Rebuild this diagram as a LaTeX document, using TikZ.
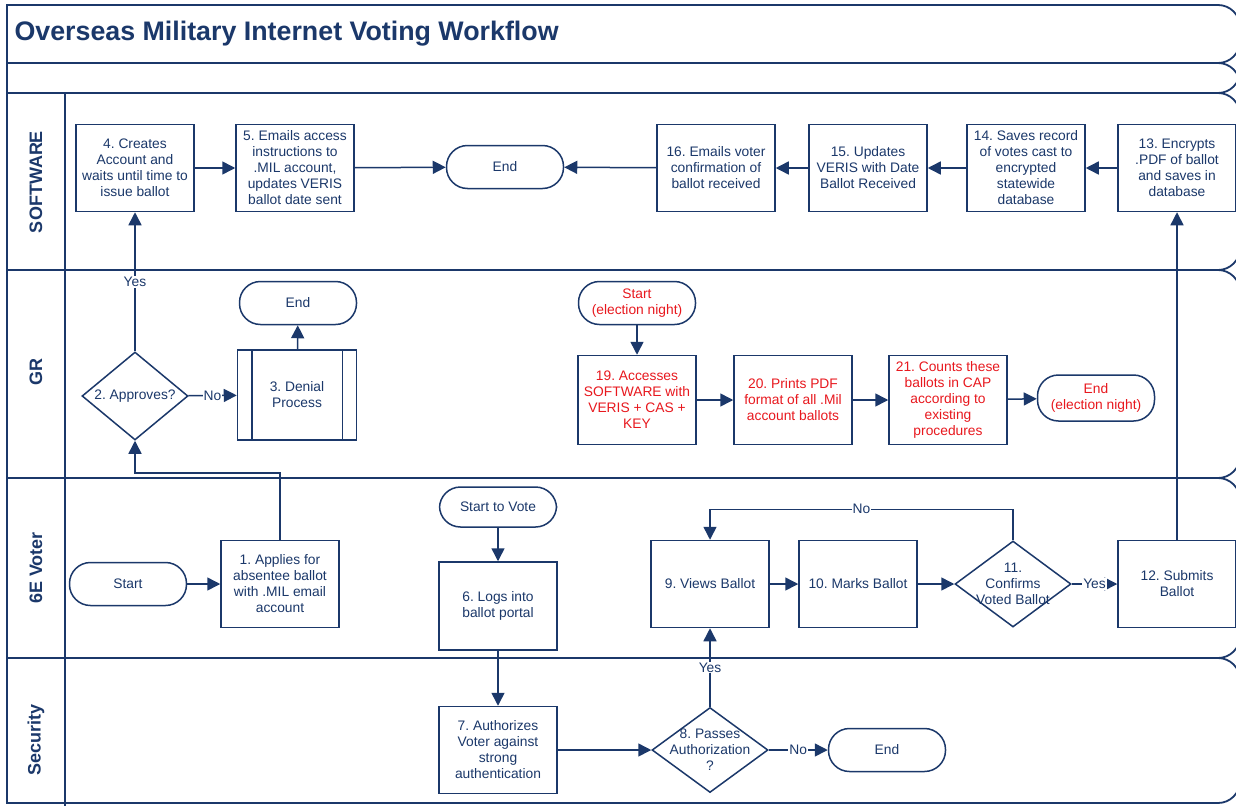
\documentclass[tikz,border=0pt]{standalone}
\usepackage{fontspec}
\setmainfont{Liberation Sans}
\usetikzlibrary{shapes.geometric,arrows.meta}
\definecolor{navy}{RGB}{27,56,106}
\definecolor{nightred}{RGB}{232,24,30}
\tikzset{
  txt/.style={align=center, text=navy, font=\fontsize{13.8}{16}\selectfont\frenchspacing},
  proc/.style={txt, draw=navy, line width=1.5pt, minimum width=118pt, minimum height=87pt, inner sep=2pt},
  term/.style={proc, rounded corners=21pt, minimum width=117pt, minimum height=43pt},
  decide/.style={draw=navy, line width=1.5pt, diamond, inner sep=0pt, minimum width=106pt, minimum height=88pt},
  night/.style={text=nightred},
  flow/.style={draw=navy, line width=1.5pt, -{Triangle[length=13pt,width=13pt]}},
  lbl/.style={txt, fill=white, inner sep=1pt},
  lane/.style={draw=navy, line width=1.8pt},
  lanename/.style={rotate=90, text=navy, font=\fontsize{18}{20}\selectfont\bfseries}
}
\newcommand\swimlane[2]{%
  \draw[lane] (620,#1) -- (7,#1) -- (7,#2) -- (620,#2);
  \draw[lane, rounded corners=22pt] (620,#1) -- (1240,#1) -- (1240,#2) -- (620,#2);}

\begin{document}
\begin{tikzpicture}[x=1pt, y=-1pt]
  \useasboundingbox (0,0) rectangle (1236,806);
  \clip (0,0) rectangle (1236,806);
  \fill[white] (0,0) rectangle (1236,806);

  % lanes
  \swimlane{5}{63}
  \swimlane{63}{93}
  \swimlane{93}{270}
  \swimlane{270}{478}
  \swimlane{478}{658}
  \swimlane{658}{803}
  \draw[lane] (65,93) -- (65,806);

  \node[anchor=west, text=navy, font=\fontsize{26.8}{30}\selectfont\bfseries] (T) at (11,34) {Overseas Military Internet Voting Workflow};
  \node[lanename] (L1) at (36,182) {SOFTWARE};
  \node[lanename] (L2) at (36,372) {GR};
  \node[lanename] (L3) at (36,568) {6E Voter};
  \node[lanename] (L4) at (36,740) {Security};

  % SOFTWARE
  \node[proc] (P4) at (135,168) {4. Creates\\Account and\\waits until time to\\issue ballot};
  \node[proc] (P5) at (295,168) {5. Emails access\\instructions to\\.MIL account,\\updates VERIS\\ballot date sent};
  \node[term] (E1) at (505,167) {End};
  \node[proc] (P16) at (716,168) {16. Emails voter\\confirmation of\\ballot received};
  \node[proc] (P15) at (868,168) {15. Updates\\VERIS with Date\\Ballot Received};
  \node[proc] (P14) at (1026,168) {14. Saves record\\of votes cast to\\encrypted\\statewide\\database};
  \node[proc] (P13) at (1177,168) {13. Encrypts\\.PDF of ballot\\and saves in\\database};

  % GR
  \node[decide, label={[txt]center:2. Approves?}] (D2) at (135,396) {};
  \node[proc, minimum width=119pt, minimum height=90pt] (P3) at (297,395) {3. Denial\\Process};
  \draw[navy, line width=1.5pt] ([xshift=15pt]P3.north west) -- ([xshift=15pt]P3.south west);
  \draw[navy, line width=1.5pt] ([xshift=-15pt]P3.north east) -- ([xshift=-15pt]P3.south east);
  \node[term] (E2) at (298,303) {End};
  \node[term, night] (S2) at (637,303) {Start\\(election night)};
  \node[proc, night, minimum height=89pt] (P19) at (637,400) {19. Accesses\\SOFTWARE with\\VERIS + CAS +\\KEY};
  \node[proc, night, minimum height=89pt] (P20) at (793,400) {20. Prints PDF\\format of all .Mil\\account ballots};
  \node[proc, night, minimum height=89pt] (P21) at (948,400) {21. Counts these\\ballots in CAP\\according to\\existing\\procedures};
  \node[term, night, minimum height=46pt] (E3) at (1096,398) {End\\(election night)};

  % 6E Voter
  \node[term] (S1) at (128,584) {Start};
  \node[proc] (P1) at (280,584) {1. Applies for\\absentee ballot\\with .MIL email\\account};
  \node[term, minimum height=40pt] (S3) at (498,507) {Start to Vote};
  \node[proc, minimum height=88pt] (P6) at (498,606) {6. Logs into\\ballot portal};
  \node[proc] (P9) at (710,584) {9. Views Ballot};
  \node[proc] (P10) at (858,584) {10. Marks Ballot};
  \node[decide, minimum width=116pt, minimum height=86pt, label={[txt]center:{11.\\Confirms\\Voted Ballot}}] (D11) at (1013,584) {};
  \node[proc] (P12) at (1177,584) {12. Submits\\Ballot};

  % Security
  \node[proc] (P7) at (498,750) {7. Authorizes\\Voter against\\strong\\authentication};
  \node[decide, minimum width=116pt, minimum height=85pt, label={[txt]center:{8. Passes\\Authorization\\?}}] (D8) at (710,750) {};
  \node[term] (E4) at (887,750) {End};

  \draw[flow] (P4) -- (P5);
  \draw[flow] (P5) -- (E1);
  \draw[flow] (P16) -- (E1);
  \draw[flow] (P15) -- (P16);
  \draw[flow] (P14) -- (P15);
  \draw[flow] (P13) -- (P14);
  \draw[flow] (D2) -- node[lbl] {No} (P3);
  \draw[flow] (D2.north) -- node[lbl] {Yes} (P4.south);
  \draw[flow] (P3) -- (E2);
  \draw[flow] (P1.north) -- ++(0,-67) -| (D2.south);
  \draw[flow] (S2) -- (P19);
  \draw[flow] (P19) -- (P20);
  \draw[flow] (P20) -- (P21);
  \draw[flow] (P21) -- (E3);
  \draw[flow] (S1) -- (P1);
  \draw[flow] (S3) -- (P6);
  \draw[flow] (P6) -- (P7);
  \draw[flow] (P7) -- (D8);
  \draw[flow] (D8) -- node[lbl] {No} (E4);
  \draw[flow] (D8.north) -- node[lbl] {Yes} (P9.south);
  \draw[flow] (P9) -- (P10);
  \draw[flow] (P10) -- (D11);
  \draw[flow] (D11) -- node[lbl] {Yes} (P12);
  \draw[flow] (D11.north) -- ++(0,-31) -| node[lbl, pos=0.25] {No} (P9.north);
  \draw[flow] (P12) -- (P13);
\end{tikzpicture}
\end{document}
